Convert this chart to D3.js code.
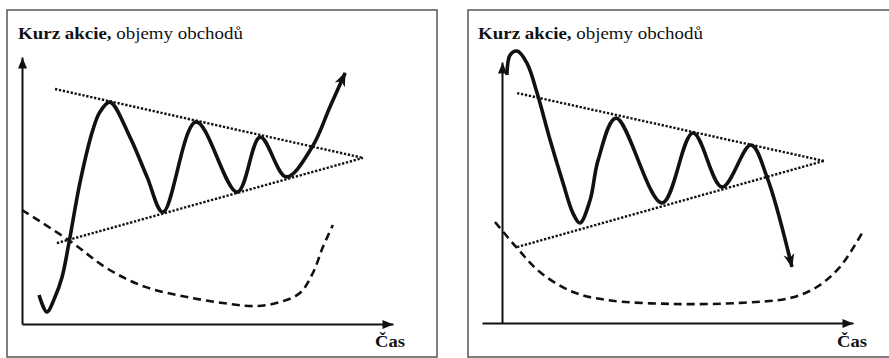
<!DOCTYPE html>
<html>
<head>
<meta charset="utf-8">
<script src="https://cdn.jsdelivr.net/npm/d3@7"></script>
<style>
  body { margin: 0; background: #fff; }
  text { font-family: "Liberation Serif", "Times New Roman", serif; }
</style>
</head>
<body>
<script>
// GLOBAL VARIABLES
const WIDTH = 889;
const HEIGHT = 358;

// TEXTS
const titleBold = "Kurz akcie,";
const titleRest = " objemy obchodů";
const xLabel = "Čas";

// DATA – left panel (breakout up), time / value in 0..100 units
const priceUpT = [4.6, 6.7, 8.9, 10.8, 12.7, 15.6, 19.1, 21.0, 23.7, 29.1, 33.7, 38.0, 46.9, 58.0, 64.2, 71.2, 78.2, 83.0, 87.1];
const priceUpV = [10.9, 4.5, 10.1, 17.6, 30.7, 52.8, 72.7, 79.4, 83.1, 70.0, 55.1, 41.9, 75.7, 49.4, 70.0, 55.1, 66.3, 81.3, 94.0];
const volumeUpT = [0, 12.9, 23.2, 33.2, 44.5, 56.1, 63.3, 69.5, 74.9, 78.4, 81.1, 83.8];
const volumeUpV = [42.7, 31.1, 20.6, 13.9, 10.1, 7.5, 6.7, 8.2, 11.6, 19.1, 28.8, 37.1];
const resistanceUp = [[8.9, 88.0], [91.9, 62.2]];
const supportUp = [[9.4, 30.3], [91.9, 62.2]];

// DATA – right panel (breakout down)
const priceDownT = [1.4, 2.3, 4.3, 7.1, 10.0, 13.7, 17.4, 20.2, 22.2, 25.1, 27.4, 32.5, 45.6, 54.4, 62.7, 70.9, 75.5, 82.6];
const priceDownV = [95.0, 102.7, 104.2, 99.6, 88.1, 70.1, 53.6, 42.1, 38.3, 47.1, 62.5, 78.5, 46.0, 72.8, 52.1, 68.2, 55.9, 21.5];
const volumeDownT = [-2.0, 4.3, 10.8, 20.2, 29.9, 48.7, 67.8, 82.1, 89.7, 96.3, 102.6];
const volumeDownV = [38.7, 28.7, 19.5, 11.9, 8.8, 7.3, 7.7, 9.6, 13.8, 21.5, 34.5];
const resistanceDown = [[4.3, 88.1], [91.7, 62.1]];
const supportDown = [[4.3, 29.1], [91.7, 62.1]];

const zip = (t, v) => t.map((d, i) => [d, v[i]]);

// PANELS (layout only)
const panels = [
  {
    box: [7, 10, 430, 347], title: [18, 39], label: [375, 347],
    xDomain: [0, 100], xRange: [22, 393], yRange: [324, 57],
    price: zip(priceUpT, priceUpV), volume: zip(volumeUpT, volumeUpV),
    resistance: resistanceUp, support: supportUp
  },
  {
    box: [468, 10, 430, 347], title: [478, 39], label: [837, 347],
    xDomain: [-5.7, 100], xRange: [482, 853], yRange: [323, 62],
    price: zip(priceDownT, priceDownV), volume: zip(volumeDownT, volumeDownV),
    resistance: resistanceDown, support: supportDown
  }
];

const svg = d3.select("body").append("svg").attr("width", WIDTH).attr("height", HEIGHT);
const defs = svg.append("defs");

// ARROW HEADS
defs.append("marker")
  .attr("id", "axisHead")
  .attr("viewBox", "-12 -6 14 12")
  .attr("refX", 0).attr("refY", 0)
  .attr("markerWidth", 14).attr("markerHeight", 12)
  .attr("markerUnits", "userSpaceOnUse")
  .attr("orient", "auto")
  .append("path")
  .attr("d", "M0,0L-11,-4.5L-11,4.5Z")
  .attr("fill", "#111");

defs.append("marker")
  .attr("id", "priceHead")
  .attr("viewBox", "-15 -7 18 14")
  .attr("refX", -1).attr("refY", 0)
  .attr("markerWidth", 18).attr("markerHeight", 14)
  .attr("markerUnits", "userSpaceOnUse")
  .attr("orient", "auto")
  .append("path")
  .attr("d", "M0,0L-14,-5.5L-10,0L-14,5.5Z")
  .attr("fill", "#111");

const fitText = (sel, width) => {
  const w = sel.node().getComputedTextLength();
  const [x, y] = [+sel.attr("data-x"), +sel.attr("data-y")];
  sel.attr("transform", `translate(${x},${y}) scale(${width / w},1)`);
};

panels.forEach(p => {
  const g = svg.append("g");
  const x = d3.scaleLinear().domain(p.xDomain).range(p.xRange);
  const y = d3.scaleLinear().domain([0, 100]).range(p.yRange);

  g.append("rect")
    .attr("x", p.box[0]).attr("y", p.box[1])
    .attr("width", p.box[2]).attr("height", p.box[3])
    .attr("fill", "none").attr("stroke", "#555").attr("stroke-width", 1.5);

  // title
  const t = g.append("text")
    .attr("data-x", p.title[0]).attr("data-y", p.title[1])
    .attr("font-size", 16.5).attr("fill", "#111");
  t.append("tspan").attr("font-weight", "bold").text(titleBold);
  t.append("tspan").text(titleRest);
  fitText(t, 225);

  // axes
  const xAxis = g.append("g")
    .attr("transform", `translate(0,${y(0)})`)
    .call(d3.axisBottom(x).ticks(0).tickSizeOuter(0));
  const yAxis = g.append("g")
    .attr("transform", `translate(${x(0)},0)`)
    .call(d3.axisLeft(y).ticks(0).tickSizeOuter(0));
  [xAxis, yAxis].forEach(a => a.select(".domain")
    .attr("stroke", "#111").attr("stroke-width", 2)
    .attr("marker-end", "url(#axisHead)"));

  const lbl = g.append("text")
    .attr("data-x", p.label[0]).attr("data-y", p.label[1])
    .attr("font-size", 16.5).attr("font-weight", "bold").attr("fill", "#111")
    .text(xLabel);
  fitText(lbl, 30);

  const straight = d3.line().x(d => x(d[0])).y(d => y(d[1]));
  const smooth = d3.line().x(d => x(d[0])).y(d => y(d[1])).curve(d3.curveCatmullRom.alpha(0.5));

  // triangle trend lines
  [p.resistance, p.support].forEach(l => g.append("path")
    .attr("d", straight(l))
    .attr("fill", "none").attr("stroke", "#111")
    .attr("stroke-width", 2.4).attr("stroke-dasharray", "2.3,1.7"));

  // volume
  g.append("path")
    .attr("d", smooth(p.volume))
    .attr("fill", "none").attr("stroke", "#111")
    .attr("stroke-width", 2.6).attr("stroke-dasharray", "8,5");

  // price
  g.append("path")
    .attr("d", smooth(p.price))
    .attr("fill", "none").attr("stroke", "#111")
    .attr("stroke-width", 3.6).attr("stroke-linejoin", "round")
    .attr("marker-end", "url(#priceHead)");
});
</script>
</body>
</html>
